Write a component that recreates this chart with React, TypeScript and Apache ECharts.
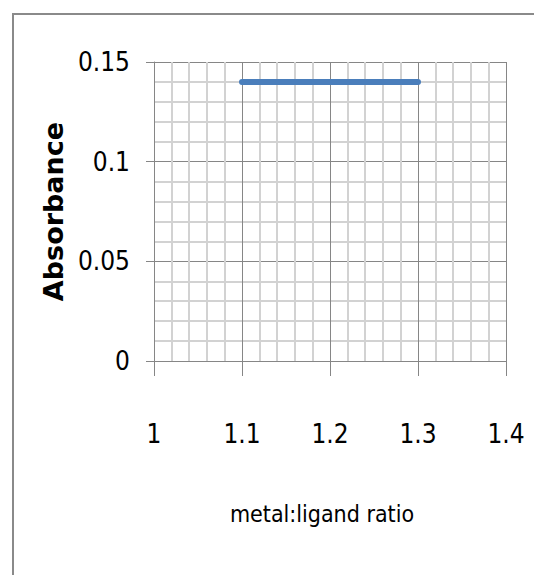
import React, { useEffect, useRef } from "react";
import * as echarts from "echarts";

const ratios = [1.1, 1.2, 1.3];
const absorbance = [0.14, 0.14, 0.14];
const xTitle = "metal:ligand ratio";
const yTitle = "Absorbance";

export default function App() {
  const ref = useRef<HTMLDivElement>(null);
  useEffect(() => {
    if (!ref.current) return;
    const chart = echarts.init(ref.current, undefined, { renderer: "svg" });
    const labelFont = "'Liberation Sans Narrow', 'DejaVu Sans Condensed', sans-serif";
    chart.setOption({
      animation: false,
      backgroundColor: "#fff",
      graphic: [
        {
          type: "rect",
          shape: { x: 13, y: 14, width: 700, height: 700 },
          style: { fill: "none", stroke: "#8a8a8a", lineWidth: 2 },
          silent: true,
        },
      ],
      grid: { left: 154, top: 62, right: 28, bottom: 214 },
      xAxis: {
        type: "value",
        min: 1,
        max: 1.4,
        interval: 0.1,
        name: xTitle,
        nameLocation: "middle",
        nameGap: 141,
        nameTextStyle: {
          fontFamily: labelFont,
          fontSize: 23,
          color: "#000",
          padding: [0, 16, 0, 0],
        },
        axisLine: { show: true, onZero: false, lineStyle: { color: "#868686", width: 1 } },
        axisTick: { show: true, length: 15, lineStyle: { color: "#868686" } },
        minorTick: { show: false, splitNumber: 5 },
        axisLabel: {
          margin: 60,
          fontFamily: labelFont,
          fontSize: 26,
          color: "#000",
          formatter: (v: number) => String(Math.round(v * 10) / 10),
        },
        splitLine: { show: true, lineStyle: { color: "#868686", width: 1 } },
        minorSplitLine: { show: true, lineStyle: { color: "#d2d2d2", width: 2 } },
      },
      yAxis: {
        type: "value",
        min: 0,
        max: 0.15,
        interval: 0.05,
        name: yTitle,
        nameLocation: "middle",
        nameGap: 87,
        nameRotate: 90,
        nameTextStyle: {
          fontFamily: "'DejaVu Sans', sans-serif",
          fontWeight: "bold",
          fontSize: 27,
          color: "#000",
        },
        axisLine: { show: true, lineStyle: { color: "#868686", width: 1 } },
        axisTick: { show: true, length: 8, lineStyle: { color: "#868686" } },
        minorTick: { show: false, splitNumber: 5 },
        axisLabel: {
          margin: 24,
          fontFamily: labelFont,
          fontSize: 26,
          color: "#000",
          formatter: (v: number) => String(Math.round(v * 100) / 100),
        },
        splitLine: { show: true, lineStyle: { color: "#868686", width: 1 } },
        minorSplitLine: { show: true, lineStyle: { color: "#d2d2d2", width: 2 } },
      },
      series: [
        {
          type: "line",
          data: ratios.map((r, i) => [r, absorbance[i]]),
          showSymbol: false,
          symbol: "none",
          lineStyle: { color: "#4a7ebb", width: 6, cap: "round" },
          z: 5,
        },
      ],
    });
    return () => chart.dispose();
  }, []);
  return (
    <div
      ref={ref}
      style={{ position: "fixed", left: 0, top: 0, width: 534, height: 575 }}
    />
  );
}
